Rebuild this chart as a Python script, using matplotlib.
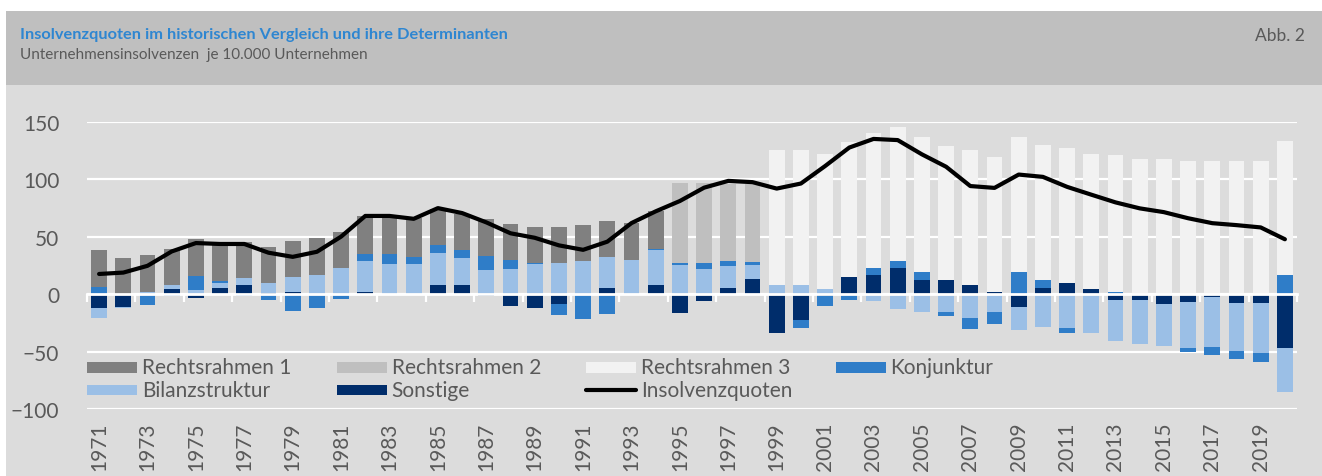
import numpy as np
import matplotlib.pyplot as plt
from matplotlib.patches import Rectangle

years = list(range(1971, 2021))

rechtsrahmen_1 = [32.1, 31.3, 31.6, 31.9, 31.7, 32.4, 31.6, 31.2, 31.5, 31.5,
                  31.8, 32.3, 32.3, 33.3, 31.5, 31.3, 31.8, 31.8, 31.4, 31.4,
                  31.8, 31.4, 32.4, 33.0] + [0] * 26
rechtsrahmen_2 = [0] * 24 + [69.1, 69.4, 67.5, 68.7] + [0] * 22
rechtsrahmen_3 = [0] * 28 + [117.2, 117.2, 117.5, 117.9, 118.1, 116.3, 118.1, 116.7, 117.5, 117.8,
                             118.1, 118.1, 117.5, 118.1, 119.3, 117.3, 117.3, 115.8, 115.8, 115.8,
                             115.8, 116.3]
konjunktur = [6.5, 0, -9.4, -2, 12.5, 1.7, -1.5, -5.5, -14.7, -12.4,
              -4.5, 6.8, 8.8, 6.4, 6.7, 6.7, 12.9, 7.9, 1.2, -9.7,
              -21.5, -17.6, 0, 0.8, 2.1, 5.6, 4.7, 2.4, 0, -7,
              -9.3, -4, 5.8, 6.2, 6.7, -3.4, -10, -10.6, 19, 6.7,
              -4.3, 0, 1.5, 0, 0, -3.1, -7.7, -7.8, -7.7, 17]
bilanzstruktur = [-9, -1.5, 2, 3.2, 3.5, 3.8, 5.8, 8.4, 13.2, 17,
                  22.6, 27, 26.5, 26.3, 28.1, 23.4, 20.6, 21.5, 26.2, 27.4,
                  28.5, 27.4, 29.4, 30.3, 25.3, 21.5, 18.7, 11.6, 7.9, 7.9,
                  4.1, -1, -5.7, -12.6, -15.7, -15.7, -20.6, -15.7, -20.3, -28.3,
                  -29.7, -34, -35.5, -38, -36.5, -40.3, -42.8, -41.4, -43.7, -38.8]
sonstige = [-12, -11, 0, 4.4, -3, 5.6, 7.9, 1, 1.5, 0,
            0, 1.5, 0, -0.8, 7.9, 7.9, -1.5, -10, -12, -8.5,
            0, 5, -0.8, 7.9, -16.7, -6.4, 5.3, 13.5, -33.9, -22.5,
            -1.5, 14.6, 16.7, 22.5, 12.3, 12.3, 7.9, 1.8, -11.1, 5.3,
            10, 4.1, -5.4, -5.4, -8.9, -6.6, -2.9, -7.7, -7.7, -46.6]
insolvenzquoten = [17.5, 18.7, 24.6, 37.1, 44.4, 43.6, 43.6, 36, 32.4, 36.8,
                   50, 68, 68, 65.5, 74.8, 70.5, 62.4, 52.9, 49, 42.4,
                   38.5, 45.6, 61.8, 72, 81, 92.6, 98.5, 97.4, 91.8, 96.2,
                   111.4, 127.5, 135, 134, 121.6, 110.8, 94, 92.4, 104, 102,
                   93.3, 86.5, 79.8, 74.6, 71.3, 66, 61.7, 60, 58, 47.7]

# stacking order from the zero line outwards
series = [
    ('Sonstige', sonstige, '#002d6b'),
    ('Bilanzstruktur', bilanzstruktur, '#9bbfe6'),
    ('Konjunktur', konjunktur, '#2f7dc8'),
    ('Rechtsrahmen 1', rechtsrahmen_1, '#808080'),
    ('Rechtsrahmen 2', rechtsrahmen_2, '#bfbfbf'),
    ('Rechtsrahmen 3', rechtsrahmen_3, '#f2f2f2'),
]
colors = {name: c for name, _, c in series}

plt.rcParams['font.family'] = ['Lato', 'DejaVu Sans']
TXT = '#595959'
BG = '#dcdcdc'

W, H = 1322, 477
fig = plt.figure(figsize=(W / 100, H / 100), dpi=100)
fig.patch.set_facecolor('white')
# header band and body background
fig.patches.append(Rectangle((6 / W, 1 - 86 / H), 1, 74 / H, transform=fig.transFigure,
                             facecolor='#bfbfbf', edgecolor='none', zorder=-10))
fig.patches.append(Rectangle((6 / W, 0), 1, 1 - 86 / H, transform=fig.transFigure,
                             facecolor=BG, edgecolor='none', zorder=-10))

fig.text(20 / W, 1 - 39.5 / H, 'Insolvenzquoten im historischen Vergleich und ihre Determinanten',
         color='#2e86d1', fontsize=11.8, fontweight='bold', va='baseline', ha='left')
fig.text(20 / W, 1 - 59.5 / H, 'Unternehmensinsolvenzen  je 10.000 Unternehmen',
         color=TXT, fontsize=11.0, va='baseline', ha='left')
fig.text(1305 / W, 1 - 41 / H, 'Abb. 2', color=TXT, fontsize=12.5, va='baseline', ha='right')

ax = fig.add_axes([87 / W, 67 / H, 1210 / W, 287.3 / H])
ax.set_zorder(1)
ax.set_facecolor(BG)

x = np.arange(len(years))
pos_bottom = np.zeros(len(years))
neg_bottom = np.zeros(len(years))
for name, vals, col in series:
    v = np.array(vals, dtype=float)
    bottom = np.where(v >= 0, pos_bottom, neg_bottom)
    ax.bar(x, v, bottom=bottom, width=0.65, color=col, edgecolor='none', zorder=3)
    pos_bottom += np.where(v >= 0, v, 0)
    neg_bottom += np.where(v < 0, v, 0)

ax.plot(x, insolvenzquoten, color='black', lw=3, solid_joinstyle='round',
        solid_capstyle='round', zorder=5)

ax.set_xlim(-0.5, len(years) - 0.5)
ax.set_ylim(-100, 150)
ax.set_yticks([-100, -50, 0, 50, 100, 150])
ax.yaxis.grid(True, color='white', lw=1.6, zorder=1)
ax.set_axisbelow(True)
for s in ['top', 'right', 'left']:
    ax.spines[s].set_visible(False)
ax.spines['bottom'].set_position(('data', 0))
ax.spines['bottom'].set_color('white')
ax.spines['bottom'].set_linewidth(2)
ax.spines['bottom'].set_zorder(4)
ax.set_xticks(np.arange(-0.5, len(years), 2))
ax.tick_params(axis='x', colors='white', length=6, width=1.6, labelbottom=False)
ax.tick_params(axis='y', length=0, pad=20, labelcolor=TXT, labelsize=15)

for i in range(0, len(years), 2):
    ax.text(i, -0.045, str(years[i]), transform=ax.get_xaxis_transform(),
            rotation=90, ha='center', va='top', color=TXT, fontsize=15)

# legend, laid out like the original in two rows
legend_rows = [
    [('Rechtsrahmen 1', 'bar'), ('Rechtsrahmen 2', 'bar'), ('Rechtsrahmen 3', 'bar'), ('Konjunktur', 'bar')],
    [('Bilanzstruktur', 'bar'), ('Sonstige', 'bar'), ('Insolvenzquoten', 'line')],
]
row_y = [0.146, 0.066]
for r, row in enumerate(legend_rows):
    for c, (name, kind) in enumerate(row):
        x0 = c * 249.5 / 1210
        if kind == 'bar':
            ax.add_patch(Rectangle((x0, row_y[r] - 0.019), 50 / 1210, 0.038, transform=ax.transAxes,
                                   facecolor=colors[name], edgecolor='none', zorder=6))
        else:
            ax.plot([x0, x0 + 50 / 1210], [row_y[r], row_y[r]], transform=ax.transAxes,
                    color='black', lw=3, solid_capstyle='round', zorder=6)
        ax.text(x0 + 55 / 1210, row_y[r], name, transform=ax.transAxes, va='center', ha='left',
                color=TXT, fontsize=15, zorder=6)

fig.savefig('out.png', dpi=100, facecolor=fig.get_facecolor())
